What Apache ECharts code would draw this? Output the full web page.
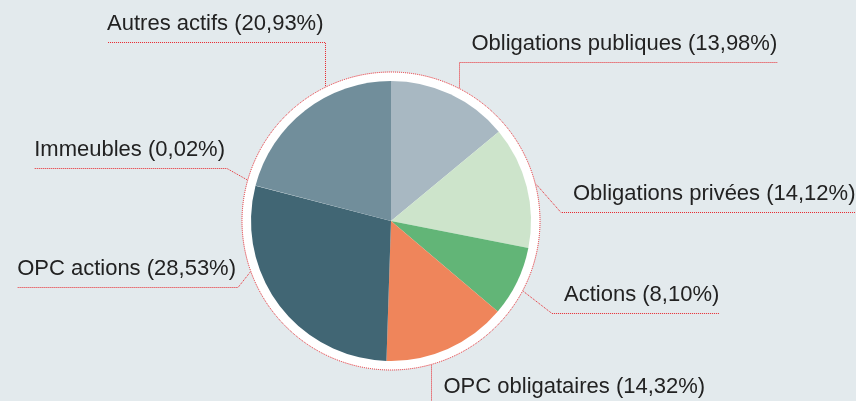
<!DOCTYPE html>
<html>
<head>
<meta charset="utf-8">
<script src="https://cdn.jsdelivr.net/npm/echarts@6/dist/echarts.min.js"></script>
<style>
  html, body { margin: 0; padding: 0; background: #e3eaed; }
  #main { width: 856px; height: 401px; }
</style>
</head>
<body>
<div id="main"></div>
<script>
// repartition des actifs (%), clockwise from 12 o'clock
const categories = ['Obligations publiques', 'Obligations privées', 'Actions', 'OPC obligataires', 'OPC actions', 'Immeubles', 'Autres actifs'];
const shares = [13.98, 14.12, 8.10, 14.32, 28.53, 0.02, 20.93];
const sliceColors = ['#a8b8c2', '#cde4cb', '#62b577', '#ef855b', '#416674', '#c9d4d9', '#718e9b'];

// where each guide line leaves the ring (deg, clockwise from top) and its elbow, relative to the pie centre
// vertical: the first segment drops straight down/up from the elbow to the ring
const guides = [
  { knee: [68.5, -158.5], side: 'right', vertical: true },
  { angle: 76, knee: [170, -8.5], side: 'right' },
  { angle: 118, knee: [161, 92.5], side: 'right' },
  { knee: [40.5, 190], side: 'down', vertical: true },
  { angle: 250, knee: [-153, 66.5], side: 'left' },
  { angle: 286, knee: [-164, -52.5], side: 'left' },
  { knee: [-65.5, -178.5], side: 'left', vertical: true }
];

const CX = 391, CY = 221, R = 140, RING = 149;
const red = '#e8262c';

const data = categories.map((name, i) => ({
  name: name,
  value: shares[i],
  itemStyle: { color: sliceColors[i] }
}));

const chart = echarts.init(document.getElementById('main'));

chart.setOption({
  backgroundColor: '#e3eaed',
  animation: false,
  series: [
    {
      // white ring with red dotted outline behind the pie
      type: 'pie',
      silent: true,
      center: [CX, CY],
      radius: RING,
      label: { show: false },
      labelLine: { show: false },
      itemStyle: { color: '#ffffff', borderColor: red, borderWidth: 1, borderType: [1, 1] },
      data: [{ value: 1, name: 'ring' }]
    },
    {
      type: 'pie',
      center: [CX, CY],
      radius: R,
      startAngle: 90,
      clockwise: true,
      avoidLabelOverlap: false,
      itemStyle: { borderWidth: 0 },
      label: {
        show: true,
        position: 'outside',
        color: '#222222',
        fontFamily: '"Liberation Sans", Arial, sans-serif',
        fontSize: 22,
        formatter: p => p.name + ' (' + p.value.toFixed(2).replace('.', ',') + '%)'
      },
      labelLine: {
        show: true,
        smooth: false,
        lineStyle: { color: red, width: 1, type: [1, 1] }
      },
      labelLayout: function (params) {
        const g = guides[params.dataIndex];
        const knee = [CX + g.knee[0], CY + g.knee[1]];
        let start;
        if (g.vertical) {
          const h = Math.sqrt((RING + 1) * (RING + 1) - g.knee[0] * g.knee[0]);
          start = [knee[0], CY + (g.knee[1] < 0 ? -h : h)];
        } else {
          const a = g.angle * Math.PI / 180;
          start = [CX + (RING + 1) * Math.sin(a), CY - (RING + 1) * Math.cos(a)];
        }
        const w = params.labelRect.width;
        if (g.side === 'right') {
          const tx = knee[0] + 12;
          return {
            x: tx, y: knee[1] - 19, align: 'left', verticalAlign: 'middle',
            labelLinePoints: [start, knee, [tx + w, knee[1]]]
          };
        }
        if (g.side === 'left') {
          const tx = knee[0] - 2;
          return {
            x: tx, y: knee[1] - 19, align: 'right', verticalAlign: 'middle',
            labelLinePoints: [start, knee, [tx - w, knee[1]]]
          };
        }
        // vertical line running off the bottom edge
        return {
          x: knee[0] + 12, y: CY + 166, align: 'left', verticalAlign: 'middle',
          labelLinePoints: [start, knee, knee]
        };
      },
      data: data
    }
  ]
});
</script>
</body>
</html>
